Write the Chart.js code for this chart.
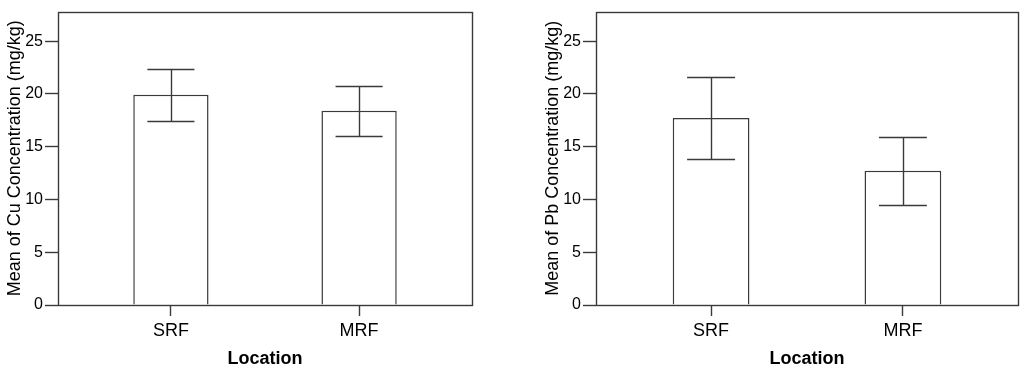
<!DOCTYPE html>
<html>
<head>
<meta charset="utf-8">
<script src="https://cdn.jsdelivr.net/npm/chart.js@4.4.1/dist/chart.umd.min.js"></script>
<style>
  body { margin: 0; background: #fff; width: 1024px; height: 370px; overflow: hidden; position: relative; }
  .panel { position: absolute; top: 0; height: 370px; }
</style>
</head>
<body>
<div class="panel" style="left:0; width:480px"><canvas id="cuChart"></canvas></div>
<div class="panel" style="left:538px; width:486px"><canvas id="pbChart"></canvas></div>
<script>
const locations = ["SRF", "MRF"];
const locationPos = [1, 2];
const yTicks = [0, 5, 10, 15, 20, 25];

const cuMean = [19.93, 18.41];
const cuUpper = [22.33, 20.79];
const cuLower = [17.45, 16.0];

const pbMean = [17.73, 12.73];
const pbUpper = [21.65, 15.9];
const pbLower = [13.84, 9.52];

const lineColor = "#3a3a3a";
const lineW = 1.4;
Chart.defaults.font.family = "'Liberation Sans', Arial, sans-serif";
Chart.defaults.color = "#000";

function makeChart(id, means, upper, lower, yTitle, padRight) {
    // error bars + box frame, drawn through the chart's own scales
    const errorBars = {
        id: "errorBars",
        afterDatasetsDraw(chart) {
            const ctx = chart.ctx;
            const xs = chart.scales.x, ys = chart.scales.y;
            ctx.save();
            ctx.strokeStyle = lineColor;
            ctx.lineWidth = lineW;
            ctx.beginPath();
            locationPos.forEach((p, i) => {
                const x = Math.round(xs.getPixelForValue(p)) + 0.5;
                const xl = xs.getPixelForValue(p - 0.125);
                const xr = xs.getPixelForValue(p + 0.125);
                const yh = Math.round(ys.getPixelForValue(upper[i])) + 0.5;
                const yl = Math.round(ys.getPixelForValue(lower[i])) + 0.5;
                ctx.moveTo(x, yh); ctx.lineTo(x, yl);
                ctx.moveTo(xl, yh); ctx.lineTo(xr, yh);
                ctx.moveTo(xl, yl); ctx.lineTo(xr, yl);
            });
            ctx.stroke();
            const a = chart.chartArea;
            ctx.strokeRect(Math.round(a.left) + 0.5, Math.round(a.top) + 0.5,
                Math.round(a.right - a.left), Math.round(a.bottom - a.top));
            ctx.restore();
        }
    };

    return new Chart(document.getElementById(id), {
        type: "bar",
        data: {
            datasets: [{
                data: locationPos.map((p, i) => ({ x: p, y: means[i] })),
                backgroundColor: "#fff",
                borderColor: lineColor,
                borderWidth: 1.5,
                barPercentage: 0.4,
                categoryPercentage: 1
            }]
        },
        options: {
            responsive: true,
            maintainAspectRatio: false,
            animation: false,
            layout: { padding: { top: 4, right: padRight, bottom: 0, left: 0 } },
            plugins: { legend: { display: false }, tooltip: { enabled: false } },
            scales: {
                x: {
                    type: "linear",
                    min: 0.4,
                    max: 2.6,
                    offset: false,
                    afterBuildTicks: s => { s.ticks = locationPos.map(v => ({ value: v })); },
                    afterFit: s => { s.height = 65; },
                    ticks: {
                        callback: (v, i) => locations[i],
                        font: { size: 18 },
                        padding: 4
                    },
                    grid: { offset: false, drawOnChartArea: false, tickLength: 11, color: lineColor, tickWidth: lineW },
                    border: { display: false },
                    title: {
                        display: true,
                        text: "Location",
                        font: { size: 18, weight: "bold" },
                        padding: { top: 0, bottom: 0 }
                    }
                },
                y: {
                    min: 0,
                    max: 27.8,
                    afterBuildTicks: s => { s.ticks = yTicks.map(v => ({ value: v })); },
                    afterFit: s => { s.width = 58; },
                    ticks: { font: { size: 16 }, padding: 2 },
                    grid: { drawOnChartArea: false, tickLength: 13, color: lineColor, tickWidth: lineW },
                    border: { display: false },
                    title: {
                        display: true,
                        text: yTitle,
                        font: { size: 18 },
                        padding: { top: 4, bottom: 0 }
                    }
                }
            }
        },
        plugins: [errorBars]
    });
}

makeChart("cuChart", cuMean, cuUpper, cuLower, "Mean of Cu Concentration (mg/kg)", 8);
makeChart("pbChart", pbMean, pbUpper, pbLower, "Mean of Pb Concentration (mg/kg)", 6);
</script>
</body>
</html>
